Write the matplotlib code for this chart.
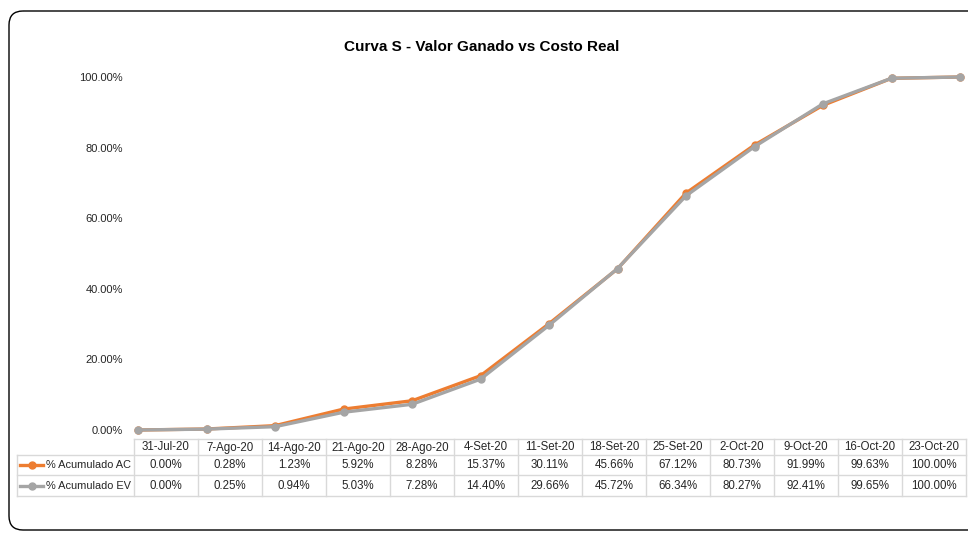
import matplotlib
matplotlib.use("Agg")
import matplotlib.pyplot as plt
from matplotlib.patches import FancyBboxPatch
from matplotlib.lines import Line2D

plt.rcParams['font.family'] = ['Liberation Sans', 'DejaVu Sans']

dates = ["31-Jul-20", "7-Ago-20", "14-Ago-20", "21-Ago-20", "28-Ago-20", "4-Set-20",
         "11-Set-20", "18-Set-20", "25-Set-20", "2-Oct-20", "9-Oct-20", "16-Oct-20", "23-Oct-20"]
ac = [0.00, 0.28, 1.23, 5.92, 8.28, 15.37, 30.11, 45.66, 67.12, 80.73, 91.99, 99.63, 100.00]
ev = [0.00, 0.25, 0.94, 5.03, 7.28, 14.40, 29.66, 45.72, 66.34, 80.27, 92.41, 99.65, 100.00]
series_names = ["% Acumulado AC", "% Acumulado EV"]
yticks = [0, 20, 40, 60, 80, 100]

W, H = 968, 533
c_ac = "#ED7D31"
c_ev = "#A5A5A5"
grid_c = "#D9D9D9"
txt_c = "#262626"

fig = plt.figure(figsize=(W / 100, H / 100), dpi=100)

ov = fig.add_axes([0, 0, 1, 1])
ov.set_xlim(0, W)
ov.set_ylim(H, 0)
ov.axis("off")

ov.add_patch(FancyBboxPatch((9, 11), 1000, 519, boxstyle="round,pad=0,rounding_size=14",
                            fill=False, ec="black", lw=1.0))

x0, x1 = 138, 960
y0, y1 = 430, 77
ax = fig.add_axes([x0 / W, 1 - y0 / H, (x1 - x0) / W, (y0 - y1) / H])
ax.set_xlim(0, len(dates) - 1)
ax.set_ylim(0, 100)
xs = list(range(len(dates)))
ax.plot(xs, ac, color=c_ac, lw=2.4, marker="o", ms=5, clip_on=False, zorder=3)
ax.plot(xs, ev, color=c_ev, lw=2.4, marker="o", ms=5, clip_on=False, zorder=4)
for s in ax.spines.values():
    s.set_visible(False)
ax.set_xticks([])
ax.set_yticks(yticks)
ax.set_yticklabels([f"{v:.2f}%" for v in yticks], fontsize=8, color=txt_c)
ax.tick_params(axis="y", length=0, pad=11)
ax.patch.set_alpha(0)

ov.text(482, 47, "Curva S - Valor Ganado vs Costo Real", ha="center", va="center",
        fontsize=11, fontweight="bold", color="black")

tl, cw = 134, 64.0
tr = tl + cw * len(dates)
rows = [439, 455, 475, 496]
leg_l = 17
lw_t = 1.0
ov.plot([tl, tr], [rows[0], rows[0]], color=grid_c, lw=lw_t)
for r in rows[1:]:
    ov.plot([leg_l, tr], [r, r], color=grid_c, lw=lw_t)
for i in range(len(dates) + 1):
    xx = tl + cw * i
    ov.plot([xx, xx], [rows[0], rows[3]], color=grid_c, lw=lw_t)
ov.plot([leg_l, leg_l], [rows[1], rows[3]], color=grid_c, lw=lw_t)

fs_t = 8.3
for i, d in enumerate(dates):
    cx = tl + cw * (i + 0.5)
    ov.text(cx, (rows[0] + rows[1]) / 2 + 0.5, d, ha="center", va="center", fontsize=fs_t, color=txt_c)
    ov.text(cx, (rows[1] + rows[2]) / 2 + 0.5, f"{ac[i]:.2f}%", ha="center", va="center", fontsize=fs_t, color=txt_c)
    ov.text(cx, (rows[2] + rows[3]) / 2 + 0.5, f"{ev[i]:.2f}%", ha="center", va="center", fontsize=fs_t, color=txt_c)

for k, (name, col) in enumerate(zip(series_names, [c_ac, c_ev])):
    yc = (rows[k + 1] + rows[k + 2]) / 2
    ov.add_line(Line2D([20, 43], [yc, yc], color=col, lw=2.4))
    ov.add_line(Line2D([31.5], [yc], color=col, marker="o", ms=5, lw=0))
    ov.text(131, yc + 0.5, name, ha="right", va="center", fontsize=7.9, color=txt_c)

fig.savefig("out.png", dpi=100)
